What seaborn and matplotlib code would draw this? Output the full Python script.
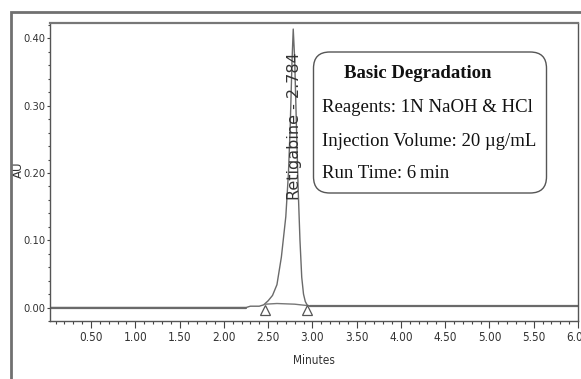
import matplotlib
matplotlib.use("Agg")
import matplotlib.pyplot as plt
from matplotlib import font_manager
from matplotlib.patches import Rectangle, FancyBboxPatch
from matplotlib.ticker import MultipleLocator, FixedLocator
import seaborn as sns
import pandas as pd

# ---- data ----
time_min = [0.04, 1.00, 2.00, 2.25, 2.30, 2.40, 2.45, 2.50, 2.55, 2.60, 2.65,
            2.70, 2.73, 2.75, 2.77, 2.784, 2.80, 2.82, 2.84, 2.86, 2.88, 2.90,
            2.92, 2.94, 2.97, 3.05, 4.00, 5.00, 6.00]
au = [0.000, 0.000, 0.000, 0.000, 0.002, 0.002, 0.004, 0.010, 0.018, 0.034, 0.075,
      0.135, 0.200, 0.270, 0.365, 0.414, 0.370, 0.270, 0.175, 0.100, 0.045, 0.020,
      0.009, 0.004, 0.002, 0.002, 0.002, 0.002, 0.002]
base_t = [2.47, 2.60, 2.80, 2.94]
base_au = [0.005, 0.006, 0.005, 0.003]
peak_name = "Retigabine"
peak_rt = 2.784
x_ticks = [0.5, 1.0, 1.5, 2.0, 2.5, 3.0, 3.5, 4.0, 4.5, 5.0, 5.5, 6.0]
y_ticks = [0.0, 0.1, 0.2, 0.3, 0.4]
box_title = "Basic Degradation"
box_lines = ["Reagents: 1N NaOH & HCl", "Injection Volume: 20 \u00b5g/mL", "Run Time: 6\u2009min"]

sns.set_style("white")
names = {f.name for f in font_manager.fontManager.ttflist}
serif = "Liberation Serif" if "Liberation Serif" in names else "DejaVu Serif"
plt.rcParams["font.family"] = ["DejaVu Sans"]
plt.rcParams["font.stretch"] = "condensed"

W, H = 581, 379
fig = plt.figure(figsize=(W / 100, H / 100), dpi=100)
ax = fig.add_axes([50 / W, (H - 321) / H, (578 - 50) / W, (321 - 23) / H])

df = pd.DataFrame({"Minutes": time_min, "AU": au})
sns.lineplot(data=df, x="Minutes", y="AU", ax=ax, color="#6a6a6a", lw=1.0, sort=False)
ax.plot([time_min[0], 2.25], [0, 0], color="#6a6a6a", lw=1.6)
ax.plot([2.97, 6.0], [0.002, 0.002], color="#6a6a6a", lw=1.6)
sns.lineplot(x=base_t, y=base_au, ax=ax, color="#777777", lw=1.0, sort=False)
ax.plot([base_t[0], base_t[-1]], [-0.0035, -0.0035], ls="none", marker="^",
        ms=6.5, mfc="white", mec="#555555", mew=0.9)

ax.set_xlim(0.037, 6.0)
ax.set_ylim(-0.020, 0.423)
ax.xaxis.set_major_locator(FixedLocator(x_ticks))
ax.xaxis.set_minor_locator(MultipleLocator(0.1))
ax.yaxis.set_major_locator(FixedLocator(y_ticks))
ax.yaxis.set_minor_locator(MultipleLocator(0.02))
ax.set_xticklabels([f"{v:.2f}" for v in x_ticks])
ax.set_yticklabels([f"{v:.2f}" for v in y_ticks])
ax.tick_params(axis="x", which="major", direction="out", length=5, width=0.8,
               color="#444444", labelsize=8.5, pad=2.5, bottom=True)
ax.tick_params(axis="x", which="minor", direction="out", length=2.5, width=0.8,
               color="#444444", bottom=True)
ax.tick_params(axis="y", which="major", direction="out", length=2.5, width=0.8,
               color="#444444", labelsize=8, pad=1, left=True)
ax.tick_params(axis="y", which="minor", direction="out", length=1.6, width=0.8,
               color="#444444", left=True)
for lab in ax.get_xticklabels() + ax.get_yticklabels():
    lab.set_color("#333333")
    lab.set_fontstretch("condensed")
for s in ax.spines.values():
    s.set_color("#555555")
    s.set_linewidth(1.0)
ax.spines["top"].set_linewidth(1.6)
ax.spines["top"].set_color("#777777")

ax.set_xlabel("Minutes", fontsize=8.5, color="#333333", fontstretch="condensed")
ax.set_ylabel("AU", fontsize=8.5, color="#333333", fontstretch="normal")
ax.xaxis.set_label_coords((314 - 50) / (578 - 50), -(354 - 321) / (321 - 23))
ax.yaxis.set_label_coords(-(50 - 25) / (578 - 50), (321 - 170) / (321 - 23))

ax.text(peak_rt + 0.01, 0.270, f"{peak_name} - {peak_rt:.3f}", rotation=90,
        ha="center", va="center", fontsize=11.5, fontstretch="normal", color="#333333")

# info box (figure pixel coordinates)
box = FancyBboxPatch(((313.5) / W, (H - 193) / H), (546.5 - 313.5) / W, (193 - 52) / H,
                     boxstyle="round,pad=0,rounding_size=0.028", transform=fig.transFigure,
                     fc="white", ec="#555555", lw=1.0, mutation_aspect=W / H)
fig.add_artist(box)
fig.text(417.5 / W, (H - 74) / H, box_title, ha="center", va="center",
         fontsize=13.5, fontweight="bold", family=serif, color="#111111")
for txt, yy in zip(box_lines, [108, 142, 173]):
    fig.text(322 / W, (H - yy) / H, txt, ha="left", va="center", fontsize=13.5,
             family=[serif, "DejaVu Serif"], color="#111111")

# outer gray frame
fig.add_artist(Rectangle((10.8 / W, -0.1), 1.5, (H - 12) / H + 0.1, transform=fig.transFigure,
                         fill=False, ec="#707070", lw=2.0))

fig.savefig("out.png", dpi=100)
